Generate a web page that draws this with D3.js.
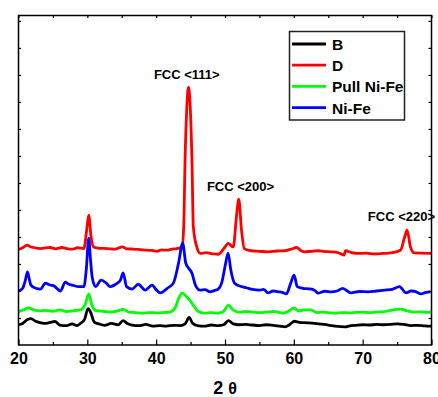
<!DOCTYPE html>
<html><head><meta charset="utf-8">
<script src="https://cdn.jsdelivr.net/npm/d3@7"></script>
<style>html,body{margin:0;padding:0;background:#fff;}svg{display:block;}</style>
</head><body>
<svg id="c" width="438" height="397"></svg>
<script>
const seriesNames = ["B", "D", "Pull Ni-Fe", "Ni-Fe"];
const seriesColors = ["#000000", "#ff0000", "#00ff00", "#0000ff"];
const xTicks = [20, 30, 40, 50, 60, 70, 80];
const xMinorTicks = [25, 35, 45, 55, 65, 75];
const yTicks = [1,2,3,4,5,6,7,8,9,10,11,12];

const dataB = [[20,0.75],[20.6,0.8],[21.3,0.94],[21.8,0.98],[22.5,0.88],[23.3,0.82],[24,0.8],[24.8,0.85],[25.3,0.87],[26,0.74],[27,0.72],[27.8,0.78],[28.5,0.72],[29,0.8],[29.6,0.95],[30.1,1.35],[30.5,1.2],[31,0.85],[31.7,0.78],[32.5,0.73],[33.5,0.8],[34.5,0.75],[35.2,0.9],[35.8,0.8],[36.5,0.74],[37.5,0.72],[38.5,0.76],[39.5,0.7],[40.5,0.72],[41.5,0.7],[42.5,0.73],[43.5,0.72],[44.2,0.78],[44.8,1.02],[45.3,0.8],[46,0.72],[47,0.7],[48,0.74],[49,0.72],[49.8,0.75],[50.5,0.9],[51.2,0.78],[52,0.75],[53,0.76],[54,0.74],[55,0.72],[56,0.75],[57,0.73],[58,0.7],[58.7,0.67],[59.5,0.78],[60.1,0.88],[60.8,0.84],[62,0.82],[63,0.8],[64,0.77],[65,0.74],[66,0.7],[67.5,0.67],[68,0.7],[69,0.73],[70,0.75],[71,0.74],[72,0.76],[73,0.75],[74,0.76],[75,0.78],[76,0.76],[77,0.72],[78,0.73],[79,0.71],[80,0.7]];

const dataD = [[20.05,3.54],[20.6,3.6],[21.25,3.7],[21.7,3.64],[22.2,3.61],[23.2,3.57],[24,3.6],[24.6,3.61],[25.4,3.56],[26.3,3.61],[27,3.57],[27.8,3.55],[28.6,3.6],[29.5,3.57],[29.9,4.25],[30.2,4.81],[30.55,4.0],[30.9,3.63],[31.8,3.58],[32.9,3.57],[34,3.55],[35.1,3.63],[35.7,3.56],[36.7,3.55],[37.7,3.53],[38.7,3.51],[39.4,3.5],[40.1,3.47],[40.8,3.52],[41.6,3.51],[42.3,3.55],[43.0,3.57],[43.75,3.63],[44.0,4.37],[44.2,6.84],[44.45,8.8],[44.7,9.55],[44.95,8.8],[45.2,6.84],[45.4,4.37],[45.9,3.63],[46.4,3.39],[47.3,3.42],[48.3,3.37],[49.0,3.36],[50.0,3.63],[50.45,3.76],[51.2,3.63],[51.66,4.74],[52.0,5.4],[52.4,4.25],[52.8,3.57],[53.8,3.49],[55,3.47],[56.25,3.45],[57.5,3.48],[58.7,3.49],[59.6,3.55],[60.4,3.61],[61.0,3.5],[61.6,3.45],[62.5,3.47],[63.5,3.49],[64.5,3.46],[65.4,3.45],[66.4,3.42],[67.3,3.33],[67.5,3.49],[68.4,3.42],[69.3,3.39],[70.5,3.4],[71.7,3.37],[73,3.39],[74.1,3.41],[75.5,3.51],[76.1,4.0],[76.45,4.25],[76.95,3.63],[77.5,3.41],[78.7,3.4],[79.95,3.39]];

const dataPull = [[20,1.23],[20.7,1.3],[21.5,1.37],[22.2,1.3],[23,1.26],[24,1.28],[25,1.25],[26,1.3],[27,1.24],[28,1.27],[29,1.3],[29.7,1.5],[30.2,1.89],[30.7,1.45],[31.3,1.27],[32.3,1.25],[33.3,1.22],[34.3,1.25],[35.2,1.32],[36,1.22],[37,1.2],[38,1.18],[39,1.2],[40,1.19],[41,1.2],[42,1.22],[42.8,1.4],[43.3,1.75],[43.75,1.92],[44.4,1.8],[45.05,1.6],[45.6,1.4],[46,1.26],[47,1.18],[48,1.2],[49,1.18],[49.8,1.25],[50.5,1.48],[51.2,1.29],[52,1.22],[53,1.24],[54,1.22],[55,1.2],[56,1.22],[57,1.24],[58,1.2],[58.5,1.18],[59.3,1.26],[60,1.37],[60.7,1.26],[61.5,1.3],[62.5,1.3],[63.3,1.2],[64,1.22],[65,1.2],[66,1.18],[67,1.2],[68,1.19],[69,1.21],[70,1.22],[71,1.2],[72,1.22],[73,1.23],[74,1.28],[75.5,1.33],[76.5,1.26],[77.5,1.22],[78.5,1.23],[79.3,1.21],[80,1.23]];

const dataNiFe = [[20.05,2.0],[20.6,2.1],[21.0,2.4],[21.3,2.71],[21.6,2.4],[21.8,2.22],[22.5,2.1],[23.2,2.07],[23.9,2.29],[24.6,2.22],[25.2,2.18],[26.1,2.0],[26.8,2.33],[27.3,2.25],[27.8,2.22],[28.75,2.16],[29.5,2.16],[29.85,2.8],[30.2,3.96],[30.45,3.2],[30.7,2.52],[31.2,2.16],[32.0,2.4],[32.8,2.28],[33.3,2.16],[34.3,2.28],[34.8,2.4],[35.2,2.67],[35.7,2.16],[36.5,2.07],[37.4,2.25],[38.4,2.03],[39.4,2.22],[40.0,2.05],[40.6,1.93],[41.6,2.1],[42.5,2.29],[43.25,3.03],[43.85,3.77],[44.3,3.03],[44.7,2.85],[45.2,2.66],[45.7,2.22],[46.4,2.03],[47.1,2.05],[47.85,1.97],[48.5,2.02],[49.0,2.07],[49.5,2.28],[50.1,3.03],[50.45,3.4],[50.85,2.77],[51.4,2.29],[52.4,2.16],[53.1,2.12],[53.8,2.07],[55.05,2.03],[55.6,2.06],[56.25,1.93],[57.0,2.0],[57.7,1.97],[58.3,1.95],[58.9,1.89],[59.55,2.29],[60.03,2.59],[60.5,2.16],[61.3,2.1],[62.2,2.08],[63.0,2.03],[63.5,1.92],[64.5,1.99],[65.45,1.97],[66.3,2.0],[67.1,2.1],[68.3,1.93],[69.5,1.98],[70.8,1.97],[72.0,2.0],[73.2,2.03],[74.3,2.06],[75.35,2.16],[76.3,1.93],[77.0,2.0],[77.5,1.99],[78.5,1.89],[79.2,1.95],[79.85,1.97]];

const allData = [dataB, dataD, dataPull, dataNiFe];

const peakLabels = ["FCC <111>", "FCC <200>", "FCC <220>"];
const peakLabelPos = [[44.45, 9.85], [52.25, 5.7], [70.75, 4.6]];

const svg = d3.select("#c");
const L = 18.5, R = 431.5, T = 15.5, B = 345;
const x = d3.scaleLinear().domain([20, 80]).range([L, R]);
const y = d3.scaleLinear().domain([0, 12.2]).range([B, T]);
const font = "Liberation Sans, Arial, sans-serif";

// series
const line = d3.line().x(d => x(d[0])).y(d => y(d[1])).curve(d3.curveMonotoneX);
allData.forEach((data, i) => {
  svg.append("path").datum(data)
    .attr("d", line)
    .attr("fill", "none")
    .attr("stroke", seriesColors[i])
    .attr("stroke-width", 2.8)
    .attr("stroke-linejoin", "round");
});

// frame
svg.append("rect").attr("x", L).attr("y", T).attr("width", R - L).attr("height", B - T)
  .attr("fill", "none").attr("stroke", "#000").attr("stroke-width", 1.5);

// axes (ticks inside)
const gBottom = svg.append("g").attr("transform", `translate(0,${B})`)
  .call(d3.axisBottom(x).tickValues(xTicks).tickSizeInner(-5.5).tickSizeOuter(0).tickPadding(10).tickFormat(d3.format("d")));
const gBottomMinor = svg.append("g").attr("transform", `translate(0,${B})`)
  .call(d3.axisBottom(x).tickValues(xMinorTicks).tickSize(-3).tickFormat(""));
const gTop = svg.append("g").attr("transform", `translate(0,${T})`)
  .call(d3.axisTop(x).tickValues(xTicks.concat(xMinorTicks)).tickSize(-2.5).tickFormat(""));
const gLeft = svg.append("g").attr("transform", `translate(${L},0)`)
  .call(d3.axisLeft(y).tickValues(yTicks).tickSize(-2.5).tickFormat(""));
const gRight = svg.append("g").attr("transform", `translate(${R},0)`)
  .call(d3.axisRight(y).tickValues(yTicks).tickSize(-3).tickFormat(""));
[gBottom, gBottomMinor, gTop, gLeft, gRight].forEach(g => {
  g.select(".domain").remove();
  g.selectAll(".tick line").attr("stroke", "#000").attr("stroke-width", 1.2);
});
gBottom.selectAll(".tick text")
  .attr("font-family", font)
  .attr("font-weight", "bold").attr("font-size", 16).attr("fill", "#000")
  .attr("dy", "0.55em");

// x label "2 θ"
const xl = svg.append("text").attr("x", 225).attr("y", 393.5).attr("text-anchor", "middle")
  .attr("font-family", font).attr("font-weight", "bold").attr("fill", "#000");
xl.append("tspan").attr("font-size", 18).text("2 ");
xl.append("tspan").attr("font-size", 16).text("θ");

// peak labels
peakLabels.forEach((t, i) => {
  svg.append("text").attr("x", x(peakLabelPos[i][0])).attr("y", y(peakLabelPos[i][1]))
    .attr("text-anchor", i === 2 ? "start" : "middle")
    .attr("font-family", font).attr("font-weight", "bold")
    .attr("font-size", 13).attr("fill", "#000").text(t);
});

// legend
const lg = svg.append("g");
lg.append("rect").attr("x", 289.5).attr("y", 31.5).attr("width", 115).attr("height", 88.5)
  .attr("fill", "#fff").attr("stroke", "#222").attr("stroke-width", 1.5);
seriesNames.forEach((n, i) => {
  const by = 50 + i * 21.2;
  lg.append("line").attr("x1", 292).attr("x2", 326).attr("y1", by - 6).attr("y2", by - 6)
    .attr("stroke", seriesColors[i]).attr("stroke-width", 2.8);
  lg.append("text").attr("x", 332).attr("y", by)
    .attr("font-family", font).attr("font-weight", "bold")
    .attr("font-size", 15.5).attr("fill", "#000").text(n);
});
</script>
</body></html>
